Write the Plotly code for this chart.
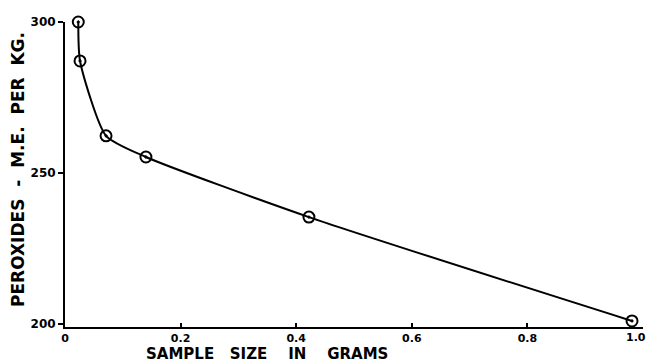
import plotly.graph_objects as go

sample_size_g = [0.023, 0.026, 0.071, 0.140, 0.422, 0.981]
peroxides_me_per_kg = [300.0, 287.1, 262.3, 255.3, 235.4, 201.0]

x_tickvals = [0, 0.2, 0.4, 0.6, 0.8, 1.0]
x_ticktext = ["0", "0.2", "0.4", "0.6", "0.8", "1.0"]
y_tickvals = [200, 250, 300]
y_ticktext = ["200", "250", "300"]

fig = go.Figure()
fig.add_trace(go.Scatter(
    x=sample_size_g, y=peroxides_me_per_kg,
    mode="lines+markers",
    line=dict(color="black", width=2, shape="spline", smoothing=0.6),
    marker=dict(symbol="circle-open-dot", size=11, color="black", line=dict(width=2, color="black")),
    cliponaxis=False,
    showlegend=False,
))

font = "DejaVu Sans"
# last x tick label is drawn as an annotation anchored at its right so it stays inside the page
x_labels_on_axis = [f"<b>{t}</b>" for t in x_ticktext[:-1]] + [""]

fig.update_layout(
    width=640, height=354,
    margin=dict(l=57, r=5, t=14, b=35, autoexpand=False),
    plot_bgcolor="white", paper_bgcolor="white",
    font=dict(family=font, color="black"),
    xaxis=dict(
        range=[0, 1.0], tickvals=x_tickvals, ticktext=x_labels_on_axis,
        showgrid=False, zeroline=False, showline=True, linecolor="black", linewidth=2,
        ticks="inside", ticklen=4, tickwidth=1.5, tickcolor="black",
        tickfont=dict(size=11, family=font), automargin=False,
    ),
    yaxis=dict(
        range=[199, 300], tickvals=y_tickvals, ticktext=[f"<b>{t}</b>" for t in y_ticktext],
        showgrid=False, zeroline=False, showline=True, linecolor="black", linewidth=2,
        ticks="outside", ticklen=5, tickwidth=1.5, tickcolor="black",
        tickfont=dict(size=12, family=font), automargin=False,
    ),
    annotations=[
        dict(text=f"<b>{x_ticktext[-1]}</b>", xref="paper", yref="paper",
             x=1.0 + 5 / 578, y=-10 / 305, xanchor="right", yanchor="middle",
             showarrow=False, font=dict(size=11, family=font)),
        dict(text="<b>SAMPLE   SIZE    IN    GRAMS</b>", xref="paper", yref="paper",
             x=(267 - 65) / 578, y=-27 / 305, xanchor="center", yanchor="middle",
             showarrow=False, font=dict(size=15, family=font)),
        dict(text="<b>PEROXIDES  -  M.E.  PER  KG.</b>", xref="paper", yref="paper",
             x=-47 / 578, y=(327 - 170) / 305, xanchor="center", yanchor="middle",
             textangle=-90, showarrow=False, font=dict(size=17, family=font)),
    ],
)

fig.write_html("out.html")
